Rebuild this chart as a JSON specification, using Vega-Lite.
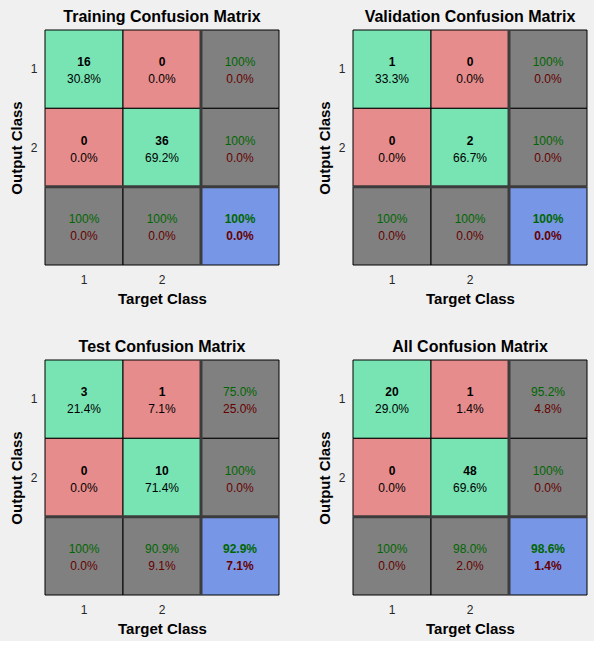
{
  "$schema": "https://vega.github.io/schema/vega-lite/v6.json",
  "background": "#f0f0f0",
  "padding": {"left": 9, "top": 8, "right": 5, "bottom": 5},
  "config": {
    "font": "Liberation Sans",
    "view": {"stroke": null},
    "axis": {"domain": false, "ticks": false, "grid": false, "labelFontSize": 12, "labelColor": "#262626", "labelAngle": 0, "titleFontSize": 15, "titleFontWeight": "bold", "titleColor": "#000000"}
  },
  "data": {"values": [
    {"panel": "Training Confusion Matrix", "t": 1, "o": 1, "kind": "correct", "a": "16", "b": "30.8%"},
    {"panel": "Training Confusion Matrix", "t": 2, "o": 1, "kind": "wrong", "a": "0", "b": "0.0%"},
    {"panel": "Training Confusion Matrix", "t": 1, "o": 2, "kind": "wrong", "a": "0", "b": "0.0%"},
    {"panel": "Training Confusion Matrix", "t": 2, "o": 2, "kind": "correct", "a": "36", "b": "69.2%"},
    {"panel": "Training Confusion Matrix", "t": 3, "o": 1, "kind": "summary", "a": "100%", "b": "0.0%"},
    {"panel": "Training Confusion Matrix", "t": 3, "o": 2, "kind": "summary", "a": "100%", "b": "0.0%"},
    {"panel": "Training Confusion Matrix", "t": 1, "o": 3, "kind": "summary", "a": "100%", "b": "0.0%"},
    {"panel": "Training Confusion Matrix", "t": 2, "o": 3, "kind": "summary", "a": "100%", "b": "0.0%"},
    {"panel": "Training Confusion Matrix", "t": 3, "o": 3, "kind": "overall", "a": "100%", "b": "0.0%"},

    {"panel": "Validation Confusion Matrix", "t": 1, "o": 1, "kind": "correct", "a": "1", "b": "33.3%"},
    {"panel": "Validation Confusion Matrix", "t": 2, "o": 1, "kind": "wrong", "a": "0", "b": "0.0%"},
    {"panel": "Validation Confusion Matrix", "t": 1, "o": 2, "kind": "wrong", "a": "0", "b": "0.0%"},
    {"panel": "Validation Confusion Matrix", "t": 2, "o": 2, "kind": "correct", "a": "2", "b": "66.7%"},
    {"panel": "Validation Confusion Matrix", "t": 3, "o": 1, "kind": "summary", "a": "100%", "b": "0.0%"},
    {"panel": "Validation Confusion Matrix", "t": 3, "o": 2, "kind": "summary", "a": "100%", "b": "0.0%"},
    {"panel": "Validation Confusion Matrix", "t": 1, "o": 3, "kind": "summary", "a": "100%", "b": "0.0%"},
    {"panel": "Validation Confusion Matrix", "t": 2, "o": 3, "kind": "summary", "a": "100%", "b": "0.0%"},
    {"panel": "Validation Confusion Matrix", "t": 3, "o": 3, "kind": "overall", "a": "100%", "b": "0.0%"},

    {"panel": "Test Confusion Matrix", "t": 1, "o": 1, "kind": "correct", "a": "3", "b": "21.4%"},
    {"panel": "Test Confusion Matrix", "t": 2, "o": 1, "kind": "wrong", "a": "1", "b": "7.1%"},
    {"panel": "Test Confusion Matrix", "t": 1, "o": 2, "kind": "wrong", "a": "0", "b": "0.0%"},
    {"panel": "Test Confusion Matrix", "t": 2, "o": 2, "kind": "correct", "a": "10", "b": "71.4%"},
    {"panel": "Test Confusion Matrix", "t": 3, "o": 1, "kind": "summary", "a": "75.0%", "b": "25.0%"},
    {"panel": "Test Confusion Matrix", "t": 3, "o": 2, "kind": "summary", "a": "100%", "b": "0.0%"},
    {"panel": "Test Confusion Matrix", "t": 1, "o": 3, "kind": "summary", "a": "100%", "b": "0.0%"},
    {"panel": "Test Confusion Matrix", "t": 2, "o": 3, "kind": "summary", "a": "90.9%", "b": "9.1%"},
    {"panel": "Test Confusion Matrix", "t": 3, "o": 3, "kind": "overall", "a": "92.9%", "b": "7.1%"},

    {"panel": "All Confusion Matrix", "t": 1, "o": 1, "kind": "correct", "a": "20", "b": "29.0%"},
    {"panel": "All Confusion Matrix", "t": 2, "o": 1, "kind": "wrong", "a": "1", "b": "1.4%"},
    {"panel": "All Confusion Matrix", "t": 1, "o": 2, "kind": "wrong", "a": "0", "b": "0.0%"},
    {"panel": "All Confusion Matrix", "t": 2, "o": 2, "kind": "correct", "a": "48", "b": "69.6%"},
    {"panel": "All Confusion Matrix", "t": 3, "o": 1, "kind": "summary", "a": "95.2%", "b": "4.8%"},
    {"panel": "All Confusion Matrix", "t": 3, "o": 2, "kind": "summary", "a": "100%", "b": "0.0%"},
    {"panel": "All Confusion Matrix", "t": 1, "o": 3, "kind": "summary", "a": "100%", "b": "0.0%"},
    {"panel": "All Confusion Matrix", "t": 2, "o": 3, "kind": "summary", "a": "98.0%", "b": "2.0%"},
    {"panel": "All Confusion Matrix", "t": 3, "o": 3, "kind": "overall", "a": "98.6%", "b": "1.4%"}
  ]},
  "facet": {
    "field": "panel", "type": "nominal",
    "sort": ["Training Confusion Matrix", "Validation Confusion Matrix", "Test Confusion Matrix", "All Confusion Matrix"],
    "header": {"title": null, "labelFontSize": 16, "labelFontWeight": "bold", "labelColor": "#000000", "labelPadding": 4, "labelFont": "Liberation Sans"}
  },
  "columns": 2,
  "spacing": {"column": 36, "row": 32},
  "resolve": {"axis": {"x": "independent", "y": "independent"}},
  "spec": {
    "width": 234,
    "height": 235,
    "encoding": {
      "x": {"field": "t", "type": "ordinal", "scale": {"domain": [1, 2, 3]}, "axis": {"title": "Target Class", "labelPadding": 9, "titlePadding": 6, "labelExpr": "datum.value == 3 ? '' : datum.label"}},
      "y": {"field": "o", "type": "ordinal", "scale": {"domain": [1, 2, 3]}, "axis": {"title": "Output Class", "labelPadding": 8, "titlePadding": 6, "labelExpr": "datum.value == 3 ? '' : datum.label"}}
    },
    "layer": [
      {
        "mark": {"type": "rect", "stroke": "#000000", "strokeWidth": 1},
        "encoding": {
          "fill": {"field": "kind", "type": "nominal", "legend": null,
            "scale": {"domain": ["correct", "wrong", "summary", "overall"], "range": ["#78e4b4", "#e68c8c", "#808080", "#7896e6"]}}
        }
      },
      {
        "transform": [{"filter": "datum.kind == 'overall'"}],
        "mark": {"type": "rule", "stroke": "#3c3c3c", "strokeWidth": 3},
        "encoding": {"x": {"field": "t", "type": "ordinal", "bandPosition": 0}, "y": null}
      },
      {
        "transform": [{"filter": "datum.kind == 'overall'"}],
        "mark": {"type": "rule", "stroke": "#3c3c3c", "strokeWidth": 3},
        "encoding": {"y": {"field": "o", "type": "ordinal", "bandPosition": 0}, "x": null}
      },
      {
        "transform": [{"filter": "datum.kind == 'correct' || datum.kind == 'wrong'"}],
        "mark": {"type": "text", "fontSize": 12, "fontWeight": "bold", "color": "#000000", "dy": -7},
        "encoding": {"text": {"field": "a"}}
      },
      {
        "transform": [{"filter": "datum.kind == 'summary'"}],
        "mark": {"type": "text", "fontSize": 12, "color": "#006600", "dy": -7},
        "encoding": {"text": {"field": "a"}}
      },
      {
        "transform": [{"filter": "datum.kind == 'overall'"}],
        "mark": {"type": "text", "fontSize": 12, "fontWeight": "bold", "color": "#006600", "dy": -7},
        "encoding": {"text": {"field": "a"}}
      },
      {
        "transform": [{"filter": "datum.kind == 'correct' || datum.kind == 'wrong'"}],
        "mark": {"type": "text", "fontSize": 12, "color": "#000000", "dy": 10},
        "encoding": {"text": {"field": "b"}}
      },
      {
        "transform": [{"filter": "datum.kind == 'summary'"}],
        "mark": {"type": "text", "fontSize": 12, "color": "#660000", "dy": 10},
        "encoding": {"text": {"field": "b"}}
      },
      {
        "transform": [{"filter": "datum.kind == 'overall'"}],
        "mark": {"type": "text", "fontSize": 12, "fontWeight": "bold", "color": "#660000", "dy": 10},
        "encoding": {"text": {"field": "b"}}
      }
    ]
  }
}
